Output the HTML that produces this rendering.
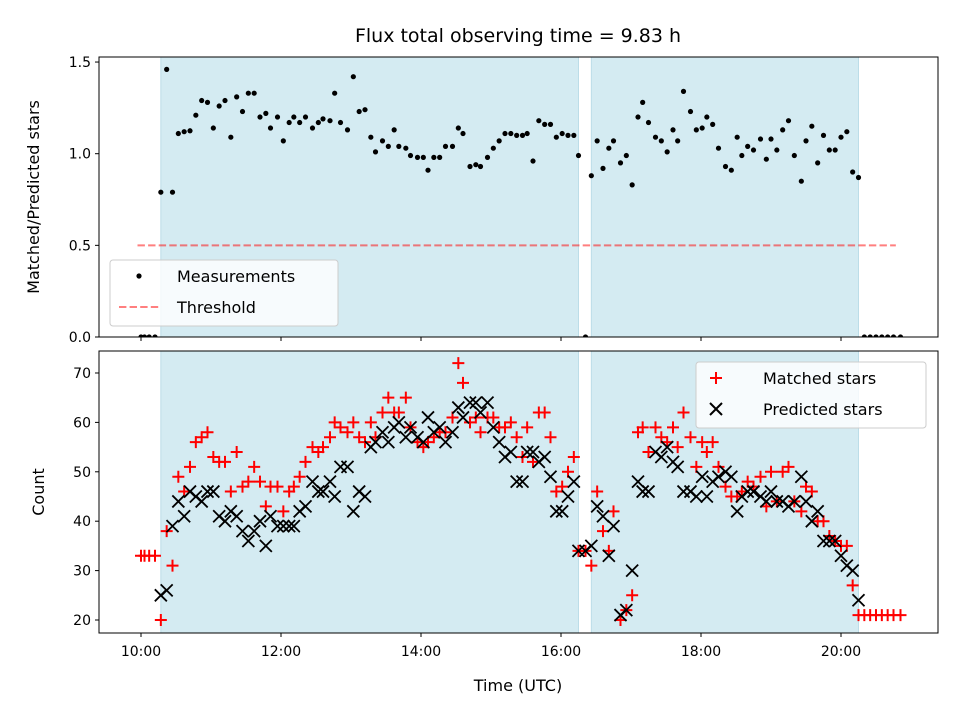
<!DOCTYPE html>
<html><head><meta charset="utf-8"><style>
body{margin:0;background:#fff;font-family:"Liberation Sans","DejaVu Sans",sans-serif}
svg text{font-family:"DejaVu Sans","Liberation Sans",sans-serif;fill:#000}
</style></head><body>
<svg id="c" width="960" height="720" viewBox="0 0 960 720" xmlns="http://www.w3.org/2000/svg"></svg>
<script>
const timeMin=[0,3,7,12,17,22,27,32,37,42,47,52,57,62,67,72,77,82,87,92,97,102,107,111,117,122,127,131,136,141,147,152,156,162,166,171,177,182,187,192,197,201,207,212,217,221,227,231,237,242,246,251,256,261,267,272,276,282,287,291,297,302,307,312,317,322,
327,331,336,341,346,351,356,361,366,371,375,381,386,391,396,401,405,411,416,421,426,430,435,441,446,451,456,460,465,471,476,481,485,490,495,501,506,511,515,520,525,531,536,540,545,550,555,560,566,570,575,580,585,590,595,600,605,610,615,620,625,630,635,640,645,651];
const ratio=[0,0,0,0,0.79,1.46,0.79,1.11,1.12,1.125,1.21,1.29,1.28,1.14,1.26,1.29,1.09,1.31,1.23,1.33,1.33,1.20,1.22,1.14,1.20,1.07,1.17,1.20,1.17,1.20,1.14,1.17,1.19,1.18,1.33,1.17,1.13,1.42,1.23,1.24,1.09,1.01,1.07,1.04,1.13,1.04,1.03,0.99,0.98,0.98,0.91,0.98,0.98,1.04,1.04,1.14,1.11,0.93,0.94,0.93,0.98,1.03,1.07,1.11,1.11,1.10,
1.10,1.11,0.96,1.18,1.16,1.16,1.09,1.11,1.10,1.10,0.99,0,0.88,1.07,0.92,1.03,1.07,0.95,0.99,0.83,1.20,1.28,1.17,1.09,1.07,1.01,1.13,1.07,1.34,1.23,1.13,1.14,1.20,1.16,1.03,0.93,0.91,1.09,0.99,1.04,1.02,1.08,0.97,1.08,1.02,1.13,1.18,0.99,0.85,1.07,1.15,0.95,1.10,1.02,1.02,1.09,1.12,0.90,0.87,0,0,0,0,0,0,0];
const matched=[33,33,33,33,20,38,31,49,46,51,56,57,58,53,52,52,46,54,47,48,51,48,43,47,47,42,46,47,49,52,55,54,55,57,60,59,58,60,57,56,60,57,62,65,62,62,65,59,56,55,56,57,58,58,61,72,68,60,61,58,61,61,59,59,60,57,
53,59,52,62,62,57,46,47,50,53,34,34,31,46,38,34,42,20,22,25,58,59,54,59,57,56,59,55,62,57,51,56,54,56,51,47,45,45,46,48,47,49,43,50,44,50,51,44,42,47,46,40,40,37,36,35,35,27,21,21,21,21,21,21,21,21];
const predicted=[null,null,null,null,25,26,39,44,41,46,45,44,46,46,41,40,42,41,38,36,38,40,35,41,39,39,39,39,42,43,48,46,46,48,45,51,51,42,46,45,55,56,58,56,59,60,57,59,57,56,61,58,59,56,58,63,61,64,64,62,64,59,56,53,54,48,
48,54,54,52,53,49,42,42,45,48,34,34,35,43,41,33,39,21,22,30,48,46,46,54,53,55,52,51,46,46,45,49,45,48,49,50,49,42,45,46,46,45,44,46,44,44,43,44,49,44,40,42,36,36,36,33,31,30,24,null,null,null,null,null,null,null];
const windows=[[17,375],[386,615]];
const threshold=0.5, thrStart=-3, thrEnd=647;
const xTicks=[0,120,240,360,480,600];
const xTickLabels=["10:00","12:00","14:00","16:00","18:00","20:00"];
const yTopTicks=[0,0.5,1.0,1.5];
const yBotTicks=[20,30,40,50,60,70];

const NS="http://www.w3.org/2000/svg";
const svg=document.getElementById('c');
function mk(tag,a,parent){const e=document.createElementNS(NS,tag);for(const k in a)e.setAttribute(k,a[k]);(parent||svg).appendChild(e);return e;}
const L=99,R=938;
const xs=m=>141+(m)*70/60;
const T={top:57,bot:337,min:0,max:1.5275};
const B={top:351,bot:633,min:17.37,max:74.45};
const ys=(ax,v)=>ax.bot-(v-ax.min)/(ax.max-ax.min)*(ax.bot-ax.top);

function frame(ax,name){
  const g=mk('g',{});
  
  
  windows.forEach((w,i)=>{
    const r=mk('rect',{x:xs(w[0]),y:ax.top,width:xs(w[1])-xs(w[0]),height:ax.bot-ax.top,fill:'#d4ebf2',stroke:'#bcdde8','stroke-width':1},g);
    
    
  });
  return g;
}
function axesBox(ax,name,labels){
  const g=mk('g',{});
  
  
  mk('rect',{x:L,y:ax.top,width:R-L,height:ax.bot-ax.top,fill:'none',stroke:'#000','stroke-width':1},g);
  xTicks.forEach((t,i)=>{
    mk('line',{x1:xs(t),x2:xs(t),y1:ax.bot,y2:ax.bot+4,stroke:'#000'},g);
    if(labels){const tx=mk('text',{x:xs(t),y:ax.bot+23,'text-anchor':'middle','font-size':14},g);tx.textContent=xTickLabels[i];
      }
  });
}
function yTicks(ax,ticks,fmt,g){
  ticks.forEach(t=>{
    const y=ys(ax,t);
    mk('line',{x1:L-4,x2:L,y1:y,y2:y,stroke:'#000'},g);
    const tx=mk('text',{x:L-8,y:y+5,'text-anchor':'end','font-size':14},g);tx.textContent=fmt(t);
    
  });
}
// top panel
frame(T,'ratio');
const thr=mk('line',{x1:xs(thrStart),x2:xs(thrEnd),y1:ys(T,threshold),y2:ys(T,threshold),stroke:'rgba(255,0,0,0.5)','stroke-width':2,'stroke-dasharray':'7.4,3.2'});

const clipT=mk('clipPath',{id:'ct'});mk('rect',{x:L,y:T.top-3,width:R-L,height:T.bot-T.top+3},clipT);
const gD=mk('g',{'clip-path':'url(#ct)'});
timeMin.forEach((m,i)=>{
  const c=mk('circle',{cx:xs(m),cy:ys(T,ratio[i]),r:2.6,fill:'#000'},gD);
  
  
});
axesBox(T,'ratio',false);
yTicks(T,yTopTicks,v=>v.toFixed(1),svg);
// bottom panel
frame(B,'count');
const clipB=mk('clipPath',{id:'cb'});mk('rect',{x:L,y:B.top,width:R-L,height:B.bot-B.top},clipB);
const gM=mk('g',{'clip-path':'url(#cb)'});
timeMin.forEach((m,i)=>{
  if(matched[i]==null)return;
  const x=xs(m),y=ys(B,matched[i]);
  const p=mk('path',{d:`M${x-6} ${y}H${x+6}M${x} ${y-6}V${y+6}`,stroke:'#f00','stroke-width':2,fill:'none'},gM);
  
  
});
timeMin.forEach((m,i)=>{
  if(predicted[i]==null)return;
  const x=xs(m),y=ys(B,predicted[i]);
  const p=mk('path',{d:`M${x-6} ${y-6}L${x+6} ${y+6}M${x-6} ${y+6}L${x+6} ${y-6}`,stroke:'#000','stroke-width':1.8,fill:'none'},gM);
  
  
});
axesBox(B,'count',true);
yTicks(B,yBotTicks,v=>String(v),svg);
// legends
function legend(x,y,w,h,items,name,mx){
  const g=mk('g',{});
  
  
  mk('rect',{x,y,width:w,height:h,rx:3,fill:'rgba(255,255,255,0.8)',stroke:'#ccc'},g);
  items.forEach((it,i)=>{
    const cy=y+16+i*31, cx=x+mx;
    if(it.t=='dot')mk('circle',{cx,cy,r:2.6,fill:'#000'},g);
    if(it.t=='dash')mk('path',{d:`M${cx-20} ${cy}H${cx+20}`,stroke:'rgba(255,0,0,0.5)','stroke-width':2,'stroke-dasharray':'7.4,3.2'},g);
    if(it.t=='plus')mk('path',{d:`M${cx-6} ${cy}H${cx+6}M${cx} ${cy-6}V${cy+6}`,stroke:'#f00','stroke-width':2},g);
    if(it.t=='x')mk('path',{d:`M${cx-6} ${cy-6}L${cx+6} ${cy+6}M${cx-6} ${cy+6}L${cx+6} ${cy-6}`,stroke:'#000','stroke-width':2},g);
    const tx=mk('text',{x:x+67,y:cy+6,'font-size':16},g);tx.textContent=it.s;
    
  });
}
legend(110,260,228,66,[{t:'dot',s:'Measurements'},{t:'dash',s:'Threshold'}],'ratio-legend',29);
legend(696,362,230,66,[{t:'plus',s:'Matched stars'},{t:'x',s:'Predicted stars'}],'count-legend',20);
// titles
function txt(s,a,name){const t=mk('text',a);t.textContent=s;}
txt('Flux total observing time = 9.83 h',{x:518,y:42,'text-anchor':'middle','font-size':19},'chart-title');
txt('Time (UTC)',{x:518,y:691,'text-anchor':'middle','font-size':16},'x-axis-title');
txt('Matched/Predicted stars',{x:0,y:0,'text-anchor':'middle','font-size':16,transform:'translate(39,197) rotate(-90)'},'top-y-axis-title');
txt('Count',{x:0,y:0,'text-anchor':'middle','font-size':16,transform:'translate(44,492) rotate(-90)'},'bottom-y-axis-title');
</script>
</body></html>
